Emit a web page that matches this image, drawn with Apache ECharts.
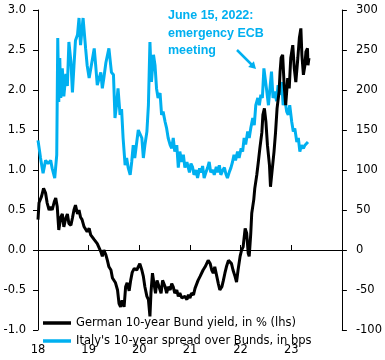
<!DOCTYPE html>
<html>
<head>
<meta charset="utf-8">
<script src="https://cdn.jsdelivr.net/npm/echarts@6/dist/echarts.min.js"></script>
<style>
html,body{margin:0;padding:0;background:#fff;}
#c{width:385px;height:360px;}
</style>
</head>
<body>
<div id="c"></div>
<script>
// ---- data ----
const bundYears = [2018.00,2018.02,2018.07,2018.11,2018.15,2018.18,2018.22,2018.25,2018.28,2018.32,2018.35,2018.38,2018.41,2018.45,2018.48,2018.51,2018.55,2018.58,2018.61,2018.65,2018.68,2018.71,2018.74,2018.78,2018.81,2018.84,2018.87,2018.91,2018.94,2018.97,
2019.01,2019.04,2019.07,2019.11,2019.14,2019.17,2019.20,2019.24,2019.27,2019.30,2019.34,2019.37,2019.40,2019.44,2019.47,2019.50,2019.53,2019.57,2019.60,2019.63,2019.66,2019.70,2019.73,2019.76,2019.80,2019.83,2019.86,2019.90,2019.95,
2020.01,2020.05,2020.08,2020.11,2020.15,2020.18,2020.21,2020.23,2020.26,2020.29,2020.32,2020.35,2020.39,2020.43,2020.46,2020.51,2020.54,2020.57,2020.61,2020.64,2020.67,2020.70,2020.74,2020.77,2020.80,2020.84,2020.87,2020.90,2020.94,2020.97,
2021.00,2021.03,2021.07,2021.10,2021.13,2021.16,2021.20,2021.23,2021.26,2021.30,2021.33,2021.36,2021.40,2021.43,2021.46,2021.49,2021.53,2021.56,2021.59,2021.63,2021.66,2021.69,2021.72,2021.76,2021.79,2021.82,2021.85,2021.89,2021.92,2021.95,2021.99,
2022.02,2022.05,2022.09,2022.12,2022.15,2022.17,2022.20,2022.22,2022.26,2022.28,2022.32,2022.35,2022.38,2022.42,2022.44,2022.47,2022.50,2022.53,2022.57,2022.59,2022.62,2022.66,2022.69,2022.72,2022.76,2022.78,2022.80,2022.83,2022.86,2022.89,2022.93,2022.96,2022.99,
2023.03,2023.06,2023.09,2023.13,2023.16,2023.19,2023.21,2023.24,2023.27,2023.29,2023.32,2023.33,2023.35];
const bundYield = [0.38,0.59,0.67,0.77,0.71,0.59,0.50,0.54,0.50,0.60,0.65,0.54,0.25,0.41,0.45,0.29,0.40,0.45,0.33,0.31,0.40,0.50,0.56,0.45,0.50,0.41,0.38,0.29,0.31,0.23,
0.27,0.19,0.17,0.13,0.15,0.08,0.10,-0.02,-0.08,0.00,-0.06,-0.13,-0.21,-0.25,-0.35,-0.33,-0.41,-0.50,-0.67,-0.71,-0.63,-0.71,-0.46,-0.41,-0.51,-0.38,-0.28,-0.23,-0.25,
-0.17,-0.25,-0.33,-0.46,-0.58,-0.62,-0.83,-0.54,-0.29,-0.42,-0.54,-0.38,-0.46,-0.54,-0.38,-0.46,-0.54,-0.46,-0.50,-0.42,-0.46,-0.54,-0.50,-0.58,-0.54,-0.60,-0.62,-0.58,-0.62,-0.56,
-0.60,-0.54,-0.56,-0.48,-0.46,-0.38,-0.33,-0.35,-0.25,-0.21,-0.17,-0.13,-0.17,-0.25,-0.29,-0.21,-0.33,-0.42,-0.50,-0.46,-0.38,-0.29,-0.21,-0.13,-0.13,-0.17,-0.25,-0.33,-0.40,-0.25,-0.08,
0.00,0.04,0.27,0.21,-0.04,-0.08,0.20,0.46,0.63,0.77,0.94,1.10,1.27,1.47,1.69,1.77,1.60,1.31,1.06,0.79,0.98,1.23,1.47,1.77,1.98,2.23,2.40,2.44,2.06,1.81,2.15,2.02,2.40,
2.56,2.27,2.10,2.40,2.65,2.77,2.44,2.19,2.31,2.48,2.52,2.31,2.40];

const spreadYears = [2018.00,2018.03,2018.05,2018.10,2018.15,2018.20,2018.25,2018.28,2018.33,2018.37,2018.39,2018.41,2018.43,2018.45,2018.48,2018.51,2018.55,2018.58,2018.61,2018.65,2018.68,2018.71,2018.74,2018.78,2018.81,2018.84,2018.89,2018.94,2018.97,
2019.01,2019.04,2019.11,2019.14,2019.17,2019.24,2019.27,2019.30,2019.34,2019.40,2019.45,2019.49,2019.52,2019.55,2019.58,2019.62,2019.65,2019.68,2019.72,2019.75,2019.78,2019.82,2019.85,2019.88,2019.91,2019.95,2019.98,
2020.01,2020.05,2020.08,2020.11,2020.15,2020.18,2020.21,2020.24,2020.28,2020.31,2020.34,2020.37,2020.41,2020.44,2020.47,2020.51,2020.54,2020.57,2020.61,2020.64,2020.67,2020.70,2020.74,2020.77,2020.80,2020.84,2020.87,2020.90,2020.94,2020.99,
2021.02,2021.05,2021.08,2021.12,2021.15,2021.19,2021.22,2021.25,2021.28,2021.32,2021.35,2021.38,2021.41,2021.45,2021.48,2021.52,2021.55,2021.58,2021.61,2021.65,2021.68,2021.71,2021.74,2021.78,2021.81,2021.84,2021.87,2021.90,2021.94,2021.97,
2022.01,2022.04,2022.07,2022.10,2022.14,2022.17,2022.20,2022.24,2022.27,2022.30,2022.34,2022.37,2022.40,2022.43,2022.46,2022.51,2022.55,2022.58,2022.61,2022.64,2022.68,2022.71,2022.74,2022.78,2022.81,2022.84,2022.87,2022.91,2022.94,2022.97,
2023.01,2023.04,2023.07,2023.11,2023.14,2023.17,2023.20,2023.24,2023.27,2023.30,2023.33];
const spreadBps = [137,124,115,96,112,108,112,102,90,119,265,185,240,190,227,192,220,205,260,235,197,230,262,269,290,256,290,252,231,
215,226,252,230,206,222,202,215,234,252,222,219,165,181,202,169,176,140,106,115,103,94,110,131,115,135,150,
148,140,115,131,148,181,260,210,244,231,202,190,196,169,173,160,152,140,131,127,140,123,131,103,123,110,119,103,110,97,
108,104,94,100,90,102,97,105,90,98,103,110,97,100,94,104,97,106,94,100,103,95,90,98,103,110,119,112,123,115,
127,123,140,132,148,140,152,165,156,181,190,181,194,190,227,202,181,202,223,190,198,186,206,194,210,181,190,173,169,181,
160,148,152,135,140,123,131,127,131,131,135];

const xTickLabels = ['18','19','20','21','22','23'];
const leftTickLabels = ['-1.0','-0.5','0.0','0.5','1.0','1.5','2.0','2.5','3.0'];
const rightTickLabels = ['-100','-50','0','50','100','150','200','250','300'];
const seriesNames = ["German 10-year Bund yield, in % (lhs)", "Italy's 10-year spread over Bunds, in bps"];
const noteText = 'June 15, 2022:\nemergency ECB\nmeeting';

// ---- chart ----
const FONT = 'DejaVu Sans';
const FS = 11.5;
const BLUE = '#00B0F0';
const chart = echarts.init(document.getElementById('c'), null, {renderer: 'canvas'});

const option = {
  animation: false,
  backgroundColor: '#ffffff',
  grid: {left: 38, right: 43, top: 10, bottom: 30, containLabel: false},
  xAxis: [
    {
      type: 'value', min: 2018, max: 2024, interval: 1, position: 'bottom',
      axisLine: {show: false, onZero: false},
      axisTick: {show: false},
      splitLine: {show: false},
      axisLabel: {
        margin: 14, color: '#000', fontFamily: FONT, fontSize: FS,
        formatter: v => { const i = Math.round(v - 2018); return xTickLabels[i] !== undefined ? xTickLabels[i] : ''; }
      }
    },
    {
      type: 'value', min: 2018, max: 2024, interval: 1, position: 'bottom',
      axisLine: {show: true, onZero: true, onZeroAxisIndex: 0, lineStyle: {color: '#000', width: 1}},
      axisTick: {show: true, inside: true, length: 5, lineStyle: {color: '#000', width: 1}},
      axisLabel: {show: false},
      splitLine: {show: false}
    }
  ],
  yAxis: [
    {
      type: 'value', min: -1, max: 3, interval: 0.5, position: 'left',
      axisLine: {show: true, lineStyle: {color: '#000', width: 1}},
      axisTick: {show: true, length: 5, lineStyle: {color: '#000', width: 1}},
      splitLine: {show: false},
      axisLabel: {
        margin: 12, color: '#000', fontFamily: FONT, fontSize: FS,
        formatter: v => leftTickLabels[Math.round((v + 1) / 0.5)]
      }
    },
    {
      type: 'value', min: -100, max: 300, interval: 50, position: 'right',
      axisLine: {show: true, lineStyle: {color: '#000', width: 1}},
      axisTick: {show: true, length: 5, lineStyle: {color: '#000', width: 1}},
      splitLine: {show: false},
      axisLabel: {
        margin: 14, color: '#000', fontFamily: FONT, fontSize: FS,
        formatter: v => rightTickLabels[Math.round((v + 100) / 50)]
      }
    }
  ],
  legend: {
    orient: 'vertical', left: 38, top: 311,
    itemWidth: 28, itemHeight: 3.5, itemGap: 4, icon: 'rect',
    selectedMode: false,
    textStyle: {fontFamily: FONT, fontSize: FS, color: '#000', lineHeight: 14},
    data: [
      {name: seriesNames[0], itemStyle: {color: '#000'}},
      {name: seriesNames[1], itemStyle: {color: BLUE}}
    ]
  },
  series: [
    {
      name: seriesNames[0], type: 'line', xAxisIndex: 0, yAxisIndex: 0,
      data: bundYears.map((t, i) => [t, bundYield[i]]),
      showSymbol: false, symbol: 'none', z: 4,
      lineStyle: {color: '#000', width: 3}, itemStyle: {color: '#000'}
    },
    {
      name: seriesNames[1], type: 'line', xAxisIndex: 0, yAxisIndex: 1,
      data: spreadYears.map((t, i) => [t, spreadBps[i]]),
      showSymbol: false, symbol: 'none', z: 3,
      lineStyle: {color: BLUE, width: 3}, itemStyle: {color: BLUE}
    }
  ],
  graphic: [
    {
      type: 'text', left: 168, top: 7, z: 10,
      style: {text: noteText, fill: BLUE, font: 'bold 12.5px "Liberation Sans"', lineHeight: 17.5}
    },
    {
      type: 'line', z: 10,
      shape: {x1: 237, y1: 50, x2: 252, y2: 65},
      style: {stroke: BLUE, lineWidth: 2.5}
    },
    {
      type: 'polygon', z: 10,
      shape: {points: [[256, 69], [248.2, 66.9], [253.9, 61.2]]},
      style: {fill: BLUE}
    }
  ]
};
chart.setOption(option);
</script>
</body>
</html>
